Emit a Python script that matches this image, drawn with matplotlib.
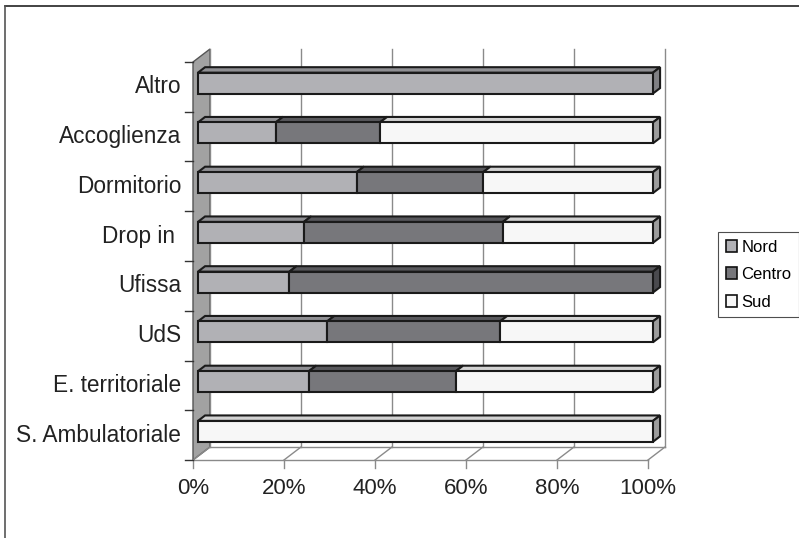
import matplotlib.pyplot as plt
from matplotlib.patches import Polygon, Rectangle, Patch
from matplotlib.lines import Line2D

plt.rcParams['font.family'] = ['Liberation Sans', 'DejaVu Sans']

# bottom to top
categories = ['S. Ambulatoriale', 'E. territoriale', 'UdS', 'Ufissa',
              'Drop in ', 'Dormitorio', 'Accoglienza', 'Altro']
series = ['Nord', 'Centro', 'Sud']
nord = [0, 24.4, 28.4, 20.1, 23.3, 34.9, 17.1, 100]
centro = [0, 32.3, 38.0, 79.9, 43.7, 27.8, 22.9, 0]
sud = [100, 43.3, 33.6, 0, 33.0, 37.3, 60.0, 0]
xticks = [0, 20, 40, 60, 80, 100]
xticklabels = ['0%', '20%', '40%', '60%', '80%', '100%']

# face / top / side shades per series
face_cols = ['#b1b1b5', '#77777b', '#f7f7f7']
top_cols = ['#8f8f93', '#58585c', '#d2d2d2']
side_cols = ['#808084', '#4a4a4e', '#9c9c9c']

W, H = 799, 538
fig = plt.figure(figsize=(W / 100, H / 100), dpi=100)
# front plane of the plot box (pixels): x 193..648, y 62..460
ax = fig.add_axes([193 / W, (H - 460) / H, (648 - 193) / W, (460 - 62) / H])
ax.set_xlim(0, 100)
ax.set_ylim(0, len(categories))
ax.axis('off')

# depth of the plot box in data units
DX = 17 * 100 / 455
DY = 13 * len(categories) / 398
F0, F1 = 0.29, 0.71      # bar front / back depth fractions
BH = 0.42                # bar thickness
edge = '#1a1a1a'
grid = '#8a8a8a'
ny = len(categories)

# side wall
ax.add_patch(Polygon([(0, 0), (DX, DY), (DX, ny + DY), (0, ny)],
                     closed=True, facecolor='#a2a2a2', edgecolor='#555555',
                     lw=1.0, clip_on=False, zorder=1))
# back wall gridlines
for x in xticks:
    ax.add_line(Line2D([x + DX, x + DX], [DY, ny + DY], color=grid, lw=1.0,
                       clip_on=False, zorder=1))
# floor
ax.add_line(Line2D([0, 100], [0, 0], color=grid, lw=1.0, clip_on=False, zorder=1))
ax.add_line(Line2D([DX, 100 + DX], [DY, DY], color=grid, lw=1.0, clip_on=False, zorder=1))
for x in xticks:
    ax.add_line(Line2D([x, x + DX], [0, DY], color=grid, lw=1.0, clip_on=False, zorder=1))
    ax.add_line(Line2D([x, x], [0, -0.16], color=grid, lw=1.0, clip_on=False, zorder=1))
for x, lab in zip(xticks, xticklabels):
    ax.text(x, -0.58, lab, ha='center', va='center', fontsize=16, color='#222222')

# category ticks and labels
for k in range(ny + 1):
    ax.add_line(Line2D([-1.8, 0], [k, k], color='#333333', lw=1.0, clip_on=False, zorder=2))
for k, lab in enumerate(categories):
    ax.text(-2.6, k + 0.5, lab, ha='right', va='center', fontsize=16.3, color='#222222')

fx, fy = F0 * DX, F0 * DY
bx, by = F1 * DX, F1 * DY

data = [nord, centro, sud]
for k in range(ny):
    yc = k + 0.5
    y0 = yc - BH / 2
    y1 = yc + BH / 2
    left = 0
    last = None
    for s in range(3):
        v = data[s][k]
        if v <= 0:
            continue
        x0, x1 = left, left + v
        ax.add_patch(Rectangle((x0 + fx, y0 + fy), v, BH, facecolor=face_cols[s],
                               edgecolor=edge, lw=1.5, clip_on=False, zorder=4))
        ax.add_patch(Polygon([(x0 + fx, y1 + fy), (x1 + fx, y1 + fy),
                              (x1 + bx, y1 + by), (x0 + bx, y1 + by)], closed=True,
                             facecolor=top_cols[s], edgecolor=edge, lw=1.5,
                             clip_on=False, zorder=3))
        left = x1
        last = s
    if last is not None:
        ax.add_patch(Polygon([(left + fx, y0 + fy), (left + bx, y0 + by),
                              (left + bx, y1 + by), (left + fx, y1 + fy)], closed=True,
                             facecolor=side_cols[last], edgecolor=edge, lw=1.5,
                             clip_on=False, zorder=3))

handles = [Patch(facecolor=face_cols[i], edgecolor='#111111', lw=1.2) for i in range(3)]
leg = fig.legend(handles, series, loc='upper left',
                 bbox_to_anchor=(718 / W, 1 - 232 / H), fontsize=12,
                 frameon=True, fancybox=False, edgecolor='#222222',
                 handlelength=0.7, handleheight=0.7, handletextpad=0.25,
                 labelspacing=0.75, borderpad=0.45, borderaxespad=0)
leg.get_frame().set_linewidth(0.8)

# outer chart border (top and left edges)
fig.add_artist(Line2D([5 / W, 1], [1 - 6 / H, 1 - 6 / H], color='#222222', lw=1.2))
fig.add_artist(Line2D([5 / W, 5 / W], [0, 1 - 6 / H], color='#555555', lw=1.2))

fig.savefig('out.png', dpi=100)
